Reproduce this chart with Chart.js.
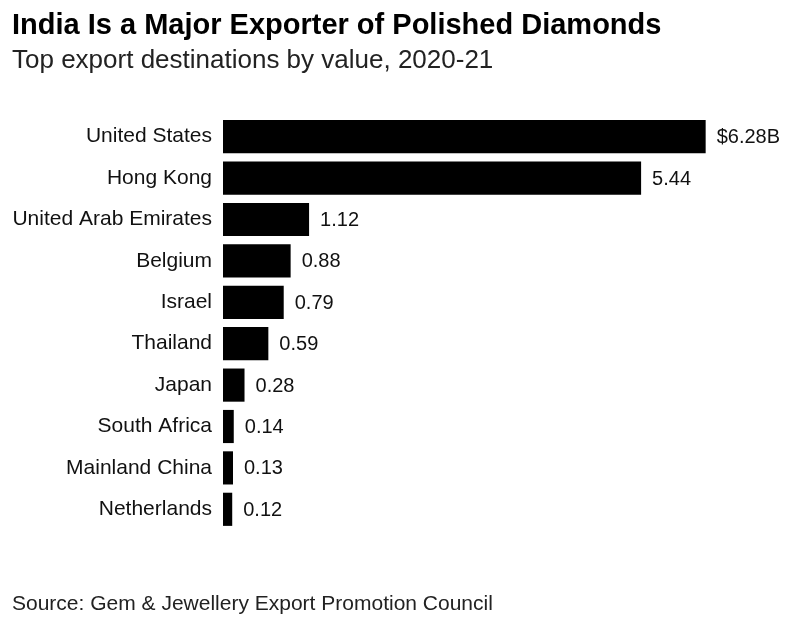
<!DOCTYPE html>
<html>
<head>
<meta charset="utf-8">
<script src="https://cdn.jsdelivr.net/npm/chart.js@4/dist/chart.umd.min.js"></script>
<style>
  body { margin: 0; background: #fff; }
  #wrap { width: 800px; height: 621px; }
</style>
</head>
<body>
<div id="wrap"><canvas id="chart"></canvas></div>
<script>
const countries = ['United States', 'Hong Kong', 'United Arab Emirates', 'Belgium', 'Israel',
  'Thailand', 'Japan', 'South Africa', 'Mainland China', 'Netherlands'];
const exportValues = [6.28, 5.44, 1.12, 0.88, 0.79, 0.59, 0.28, 0.14, 0.13, 0.12];
const valueLabels = ['$6.28B', '5.44', '1.12', '0.88', '0.79', '0.59', '0.28', '0.14', '0.13', '0.12'];

const fontFamily = '"Liberation Sans", Arial, sans-serif';

// value labels at the end of each bar, plus the source line at the bottom
const extras = {
  id: 'extras',
  afterDatasetsDraw(chart) {
    const ctx = chart.ctx;
    const meta = chart.getDatasetMeta(0);
    ctx.save();
    ctx.font = '20px ' + fontFamily;
    ctx.fillStyle = '#111';
    ctx.textAlign = 'left';
    ctx.textBaseline = 'middle';
    meta.data.forEach(function (bar, i) {
      ctx.fillText(valueLabels[i], bar.x + 11, bar.y + 1);
    });
    ctx.font = '21px ' + fontFamily;
    ctx.fillStyle = '#222';
    ctx.fillText('Source: Gem & Jewellery Export Promotion Council', 12, 604);
    ctx.restore();
  }
};

new Chart(document.getElementById('chart'), {
  type: 'bar',
  data: {
    labels: countries,
    datasets: [{
      data: exportValues,
      backgroundColor: '#000',
      barPercentage: 0.9,
      categoryPercentage: 0.89,
    }]
  },
  options: {
    indexAxis: 'y',
    responsive: true,
    maintainAspectRatio: false,
    animation: false,
    layout: {
      padding: { top: 0, right: 39, bottom: 91, left: 12 }
    },
    scales: {
      x: {
        display: false,
        min: 0,
        max: 7,
      },
      y: {
        grid: { display: false, drawTicks: false },
        border: { display: false },
        ticks: {
          color: '#111',
          padding: 11,
          font: { family: fontFamily, size: 21 },
        },
        afterFit(scale) {
          scale.width = 211;
        }
      }
    },
    plugins: {
      legend: { display: false },
      tooltip: { enabled: false },
      title: {
        display: true,
        text: 'India Is a Major Exporter of Polished Diamonds',
        align: 'start',
        color: '#000',
        font: { family: fontFamily, size: 29, weight: 'bold' },
        padding: { top: 9, bottom: 1 },
      },
      subtitle: {
        display: true,
        text: 'Top export destinations by value, 2020-21',
        align: 'start',
        color: '#222',
        font: { family: fontFamily, size: 26 },
        padding: { top: 0, bottom: 40 },
      }
    }
  },
  plugins: [extras]
});
</script>
</body>
</html>
